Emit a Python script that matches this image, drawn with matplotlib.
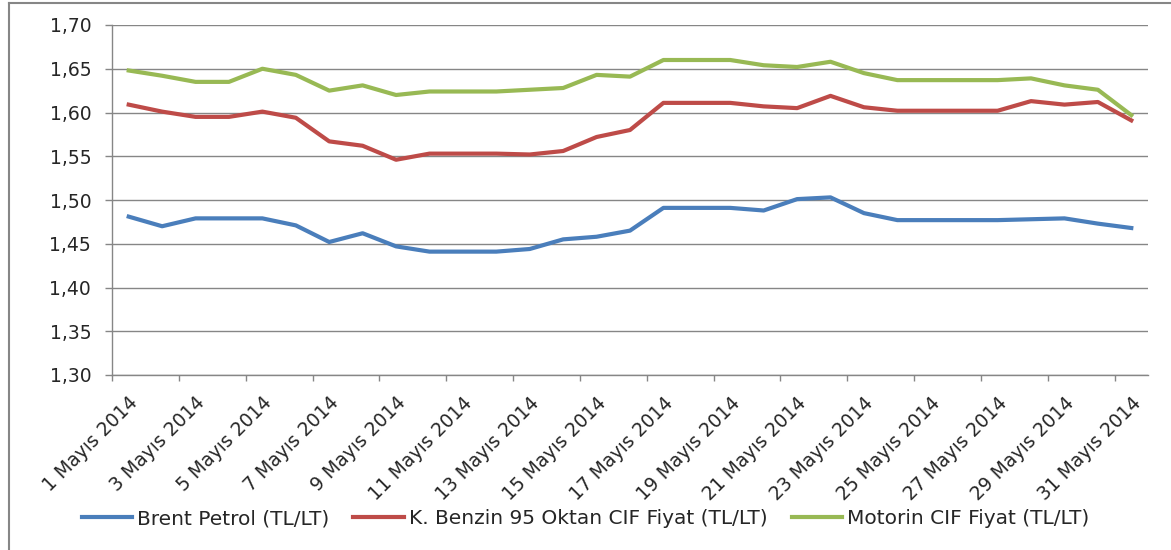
import numpy as np
import matplotlib.pyplot as plt
from matplotlib.lines import Line2D
from matplotlib.ticker import FuncFormatter

# daily values, 1-31 May 2014
days = list(range(1, 32))
brent = [1.481, 1.470, 1.479, 1.479, 1.479, 1.471, 1.452, 1.462, 1.447, 1.441,
         1.441, 1.441, 1.444, 1.455, 1.458, 1.465, 1.491, 1.491, 1.491, 1.488,
         1.501, 1.503, 1.485, 1.477, 1.477, 1.477, 1.477, 1.478, 1.479, 1.473,
         1.468]
benzin = [1.609, 1.601, 1.595, 1.595, 1.601, 1.594, 1.567, 1.562, 1.546, 1.553,
          1.553, 1.553, 1.552, 1.556, 1.572, 1.580, 1.611, 1.611, 1.611, 1.607,
          1.605, 1.619, 1.606, 1.602, 1.602, 1.602, 1.602, 1.613, 1.609, 1.612,
          1.591]
motorin = [1.648, 1.642, 1.635, 1.635, 1.650, 1.643, 1.625, 1.631, 1.620, 1.624,
           1.624, 1.624, 1.626, 1.628, 1.643, 1.641, 1.660, 1.660, 1.660, 1.654,
           1.652, 1.658, 1.645, 1.637, 1.637, 1.637, 1.637, 1.639, 1.631, 1.626,
           1.597]
series_names = ["Brent Petrol (TL/LT)", "K. Benzin 95 Oktan CIF Fiyat (TL/LT)",
                "Motorin CIF Fiyat (TL/LT)"]
colors = ["#4A7EBB", "#BE4B48", "#98B954"]
yticks = [1.30, 1.35, 1.40, 1.45, 1.50, 1.55, 1.60, 1.65, 1.70]

plt.rcParams['font.family'] = ['DejaVu Sans']
GRID = "#868686"
TXT = "#262626"

fig = plt.figure(figsize=(11.71, 5.5), dpi=100)
ax = fig.add_axes([112 / 1171, 1 - 375 / 550, (1148 - 112) / 1171, 350 / 550])

x = np.arange(len(days))
for vals, c, name in zip([brent, benzin, motorin], colors, series_names):
    ax.plot(x, vals, color=c, lw=3, label=name, solid_joinstyle="round")

ax.set_xlim(-0.5, len(days) - 0.5)
ax.set_ylim(yticks[0], yticks[-1])
ax.set_yticks(yticks)
ax.yaxis.set_major_formatter(FuncFormatter(lambda v, p: f"{v:.2f}".replace(".", ",")))
ax.grid(axis="y", color=GRID, lw=1)
ax.set_axisbelow(True)

# labels on every other day, tick marks between categories
lab_pos = x[::2]
ax.set_xticks(lab_pos)
ax.set_xticklabels([f"{d} Mayıs 2014" for d in days[::2]], rotation=45,
                   ha="right", rotation_mode="anchor")
ax.set_xticks(np.arange(-0.5, len(days), 2), minor=True)
ax.tick_params(axis="x", which="major", length=0, pad=13, labelsize=13.5, labelcolor=TXT)
ax.tick_params(axis="x", which="minor", length=4.5, color=GRID, width=1)
ax.tick_params(axis="y", length=5, color=GRID, width=1, pad=10, labelsize=13.5,
               labelcolor=TXT)

for s in ["top", "right"]:
    ax.spines[s].set_visible(False)
for s in ["left", "bottom"]:
    ax.spines[s].set_color(GRID)
    ax.spines[s].set_linewidth(1)

fig.legend(loc="center", bbox_to_anchor=(0.5, 1 - 519 / 550), ncol=3, frameon=False,
           fontsize=14.5, handlelength=2.5, handletextpad=0.25, columnspacing=1.2,
           labelcolor=TXT)

# outer chart frame (partly cut off in the original)
fig.add_artist(Line2D([9 / 1171, 9 / 1171], [0, 1 - 3 / 550], color=GRID, lw=1.5,
                      transform=fig.transFigure))
fig.add_artist(Line2D([9 / 1171, 1], [1 - 3 / 550, 1 - 3 / 550], color=GRID, lw=1.5,
                      transform=fig.transFigure))

fig.savefig("out.png", dpi=100)
